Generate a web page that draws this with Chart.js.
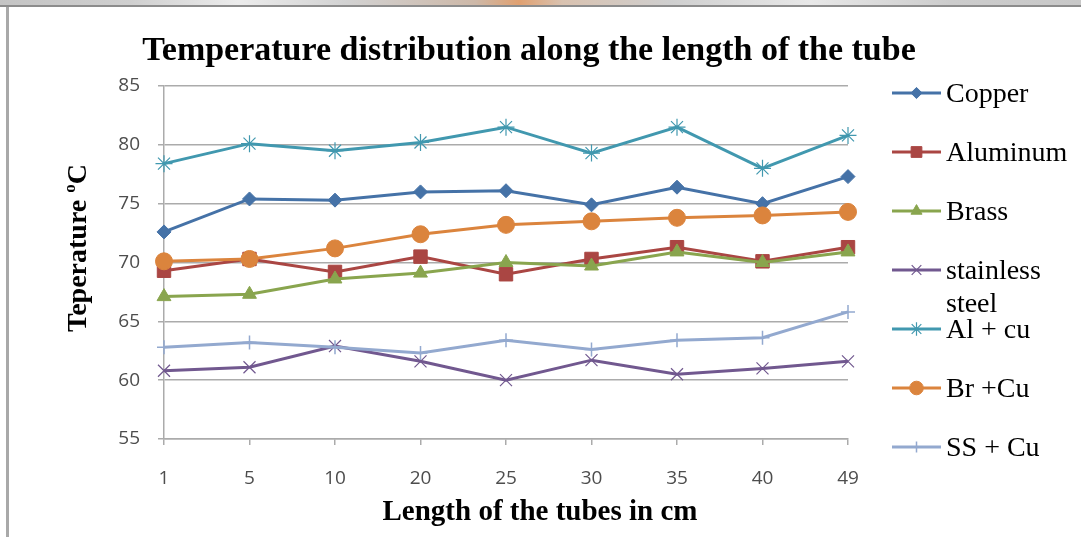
<!DOCTYPE html>
<html>
<head>
<meta charset="utf-8">
<title>Temperature distribution along the length of the tube</title>
<script src="https://cdn.jsdelivr.net/npm/chart.js@4/dist/chart.umd.min.js"></script>
<style>
  html, body { margin: 0; padding: 0; background: #ffffff; }
  #frame { position: relative; width: 1081px; height: 537px; overflow: hidden; background: #ffffff; }
  #topband {
    position: absolute; left: 0; top: 0; width: 1081px; height: 5px;
    background: linear-gradient(90deg, #c4c4c4 0%, #cfcfcf 12%, #ececec 22%, #d2d2d2 32%,
      #cdb8a8 44%, #e0a070 48%, #d9c2b0 52%, #cfcfcf 62%, #e8e8e8 75%, #cccccc 88%, #c8c8c8 100%);
    border-bottom: 2px solid #8c8c8c;
  }
  #leftrule { position: absolute; left: 6px; top: 7px; width: 3px; height: 530px; background: #a9a9a9; }
  #chart { position: absolute; left: 0; top: 0; }
</style>
</head>
<body>
<div id="frame">
  <div id="topband"></div>
  <div id="leftrule"></div>
  <canvas id="chart" width="1081" height="537"></canvas>
</div>
<script>
// Tube length positions (cm) and measured temperatures (°C)
const lengths = ['1', '5', '10', '20', '25', '30', '35', '40', '49'];
const copper    = [72.6, 75.4, 75.3, 76.0, 76.1, 74.9, 76.4, 75.0, 77.3];
const aluminum  = [69.3, 70.3, 69.2, 70.5, 69.0, 70.3, 71.3, 70.1, 71.3];
const brass     = [67.1, 67.3, 68.6, 69.1, 70.0, 69.7, 70.9, 70.0, 70.9];
const stainless = [60.8, 61.1, 62.9, 61.6, 60.0, 61.7, 60.5, 61.0, 61.6];
const alCu      = [78.4, 80.1, 79.5, 80.2, 81.5, 79.3, 81.5, 78.0, 80.8];
const brCu      = [70.1, 70.3, 71.2, 72.4, 73.2, 73.5, 73.8, 74.0, 74.3];
const ssCu      = [62.8, 63.2, 62.8, 62.3, 63.4, 62.6, 63.4, 63.6, 65.8];

const seriesNames = ['Copper', 'Aluminum', 'Brass', 'stainless steel', 'Al + cu', 'Br +Cu', 'SS + Cu'];
const yTicks = { min: 55, max: 85, step: 5 };

const SERIF = '"Liberation Serif", "Times New Roman", serif';
const SANS = '"Open Sans", "Liberation Sans", sans-serif';

function series(label, data, color, style, radius, markerLine, index) {
  return {
    label: label,
    data: data,
    borderColor: color,
    backgroundColor: color,
    borderWidth: 3,
    pointStyle: style,
    pointRadius: radius,
    pointHoverRadius: radius,
    pointBackgroundColor: color,
    pointBorderColor: color,
    pointBorderWidth: markerLine,
    tension: 0,
    clip: false,
    order: 7 - index
  };
}

const datasets = [
  series(seriesNames[0], copper,    '#4572A7', 'rectRot',  7,   1, 0),
  series(seriesNames[1], aluminum,  '#AA4643', 'rect',     9.5, 1, 1),
  series(seriesNames[2], brass,     '#89A54E', 'triangle', 8,   1, 2),
  series(seriesNames[3], stainless, '#71588F', 'crossRot', 8.5, 1.2, 3),
  series(seriesNames[4], alCu,      '#4198AF', 'star',     8.5, 1.2, 4),
  series(seriesNames[5], brCu,      '#DB843D', 'circle',   8.5, 1, 5),
  series(seriesNames[6], ssCu,      '#93A9CF', 'cross',    7,   1.5, 6)
];

// Title, axis titles and the series key, drawn on the canvas
const annotations = {
  id: 'annotations',
  afterDraw(chart) {
    const ctx = chart.ctx;
    ctx.save();
    ctx.fillStyle = '#000000';

    // Chart title
    ctx.font = 'bold 34px ' + SERIF;
    ctx.textAlign = 'center';
    ctx.textBaseline = 'alphabetic';
    ctx.fillText('Temperature distribution along the length of the tube', 529, 60);

    // X axis title
    ctx.font = 'bold 29px ' + SERIF;
    ctx.fillText('Length of the tubes in cm', 540, 520);

    // Y axis title with superscript degree mark
    ctx.save();
    ctx.translate(86, 248);
    ctx.rotate(-Math.PI / 2);
    const main = 'Teperature ';
    ctx.font = 'bold 28px ' + SERIF;
    const wMain = ctx.measureText(main).width;
    ctx.font = 'bold 17px ' + SERIF;
    const wSup = ctx.measureText('o').width;
    ctx.font = 'bold 28px ' + SERIF;
    const wC = ctx.measureText('C').width;
    let x0 = -(wMain + wSup + wC) / 2;
    ctx.textAlign = 'left';
    ctx.fillText(main, x0, 0);
    ctx.font = 'bold 17px ' + SERIF;
    ctx.fillText('o', x0 + wMain, -11);
    ctx.font = 'bold 28px ' + SERIF;
    ctx.fillText('C', x0 + wMain + wSup, 0);
    ctx.restore();

    // Series key on the right
    const keyX0 = 892, keyX1 = 941, textX = 946;
    const firstY = 93, stepY = 59;
    ctx.textAlign = 'left';
    ctx.textBaseline = 'middle';
    chart.data.datasets.forEach((ds, i) => {
      const y = firstY + i * stepY;
      ctx.strokeStyle = ds.borderColor;
      ctx.lineWidth = 3;
      ctx.beginPath();
      ctx.moveTo(keyX0, y);
      ctx.lineTo(keyX1, y);
      ctx.stroke();
      if (Chart.helpers && Chart.helpers.drawPoint) {
        ctx.fillStyle = ds.pointBackgroundColor;
        ctx.strokeStyle = ds.pointBorderColor;
        ctx.lineWidth = ds.pointBorderWidth;
        Chart.helpers.drawPoint(ctx, {
          pointStyle: ds.pointStyle,
          radius: ds.pointRadius * 0.8,
          borderWidth: ds.pointBorderWidth,
          rotation: 0
        }, (keyX0 + keyX1) / 2, y);
      }
      ctx.fillStyle = '#000000';
      ctx.font = '28px ' + SERIF;
      const words = ds.label === 'stainless steel' ? ['stainless', 'steel'] : [ds.label];
      words.forEach((w, k) => ctx.fillText(w, textX, y + 2 + k * 33));
    });
    ctx.restore();
  }
};

const gridColor = '#ababab';
const tickColor = '#4d4d4d';

new Chart(document.getElementById('chart'), {
  type: 'line',
  data: { labels: lengths, datasets: datasets },
  options: {
    responsive: false,
    animation: false,
    devicePixelRatio: 1,
    layout: { padding: { top: 86, right: 233, bottom: 0, left: 0 } },
    plugins: {
      legend: { display: false },
      title: { display: false },
      tooltip: { enabled: false }
    },
    scales: {
      x: {
        offset: false,
        grid: { drawOnChartArea: false, drawTicks: true, tickLength: 6, color: gridColor, lineWidth: 1.5 },
        border: { display: true, color: gridColor, width: 1.5 },
        ticks: { color: tickColor, font: { family: SANS, size: 19 }, padding: 22, maxRotation: 0, autoSkip: false },
        afterFit(scale) { scale.height = 537 - 439; }
      },
      y: {
        min: yTicks.min,
        max: yTicks.max,
        ticks: { stepSize: yTicks.step, color: tickColor, font: { family: SANS, size: 19 }, padding: 18 },
        grid: { color: gridColor, lineWidth: 1.5, tickLength: 6 },
        border: { display: true, color: gridColor, width: 1.5 },
        afterFit(scale) { scale.width = 164; }
      }
    }
  },
  plugins: [annotations]
});
</script>
</body>
</html>
